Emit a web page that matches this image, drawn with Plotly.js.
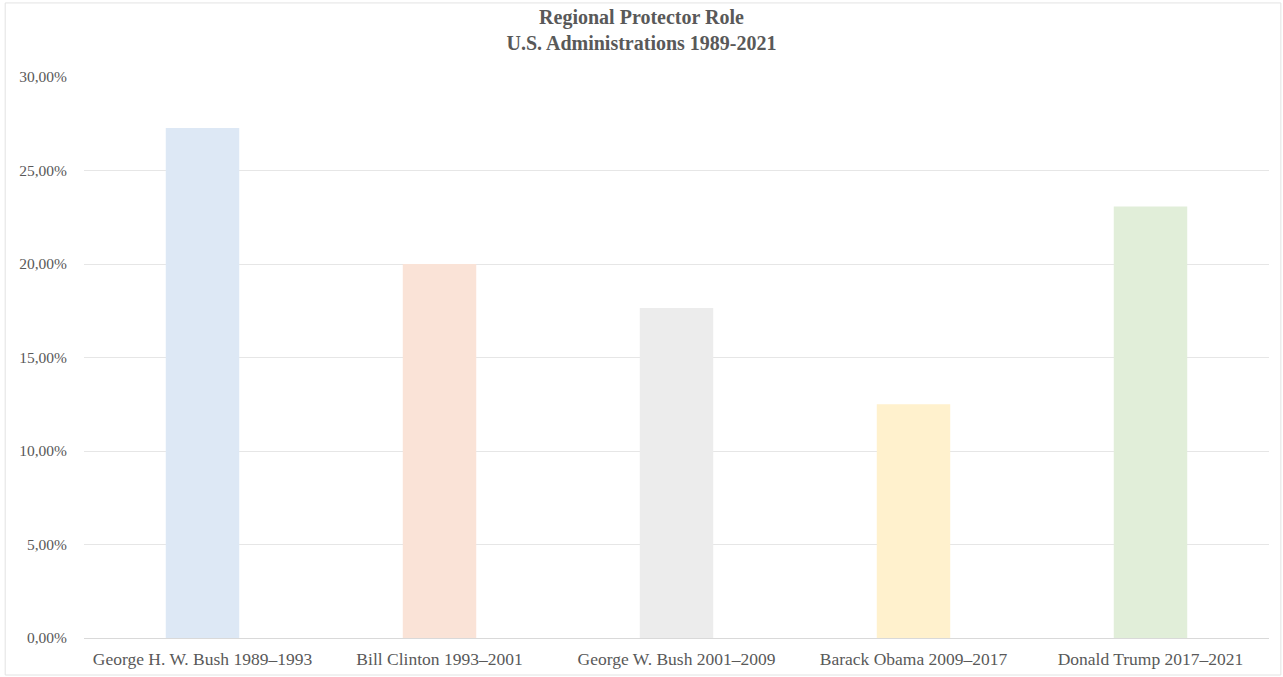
<!DOCTYPE html>
<html>
<head>
<meta charset="utf-8">
<script src="https://cdn.plot.ly/plotly-3.0.1.min.js"></script>
<style>html,body{margin:0;padding:0;background:#fff;}#chart{width:1283px;height:677px;}</style>
</head>
<body>
<div id="chart"></div>
<script>
const categories = ["George H. W. Bush 1989–1993", "Bill Clinton 1993–2001", "George W. Bush 2001–2009", "Barack Obama 2009–2017", "Donald Trump 2017–2021"];
const shares = [0.2727, 0.2000, 0.1765, 0.1250, 0.2308];
const barColors = ["#dde8f5", "#fae3d7", "#ececec", "#fff1cd", "#e1eed9"];
const yTickValues = [0, 0.05, 0.10, 0.15, 0.20, 0.25, 0.30];

const trace = {
  type: "bar",
  x: categories,
  y: shares,
  marker: {color: barColors, line: {width: 0}},
  hoverinfo: "x+y"
};

const layout = {
  width: 1283, height: 677,
  margin: {l: 84, r: 14, t: 77, b: 39},
  paper_bgcolor: "#ffffff",
  plot_bgcolor: "#ffffff",
  separators: ", ",
  bargap: 0.69,
  showlegend: false,
  font: {family: "Liberation Serif, Times New Roman, serif", color: "#595959", size: 15},
  title: {
    text: "<b>Regional Protector Role</b><br><b>U.S. Administrations 1989-2021</b>",
    x: 0.5, xanchor: "center", y: 0.964, yanchor: "middle",
    font: {family: "Liberation Serif, Times New Roman, serif", size: 20, color: "#595959"}
  },
  xaxis: {
    type: "category",
    showgrid: false,
    showline: true, linecolor: "#d9d9d9", linewidth: 1,
    ticks: "", ticklabelstandoff: 5,
    tickfont: {size: 17.5, color: "#595959"},
    fixedrange: true
  },
  yaxis: {
    range: [0, 0.30],
    tickvals: yTickValues,
    tickformat: ".2%",
    showgrid: true, gridcolor: "#e6e6e6", gridwidth: 1,
    zeroline: false, showline: false,
    ticks: "", ticklabelstandoff: 16,
    tickfont: {size: 15.5, color: "#595959"},
    fixedrange: true
  },
  shapes: [{
    type: "rect", xref: "paper", yref: "paper",
    x0: -0.0665, x1: 1.0100, y0: -0.066, y1: 1.132,
    line: {color: "#e3e3e3", width: 1}, fillcolor: "rgba(0,0,0,0)", layer: "below"
  }]
};

Plotly.newPlot("chart", [trace], layout, {displayModeBar: false, staticPlot: true});
</script>
</body>
</html>
